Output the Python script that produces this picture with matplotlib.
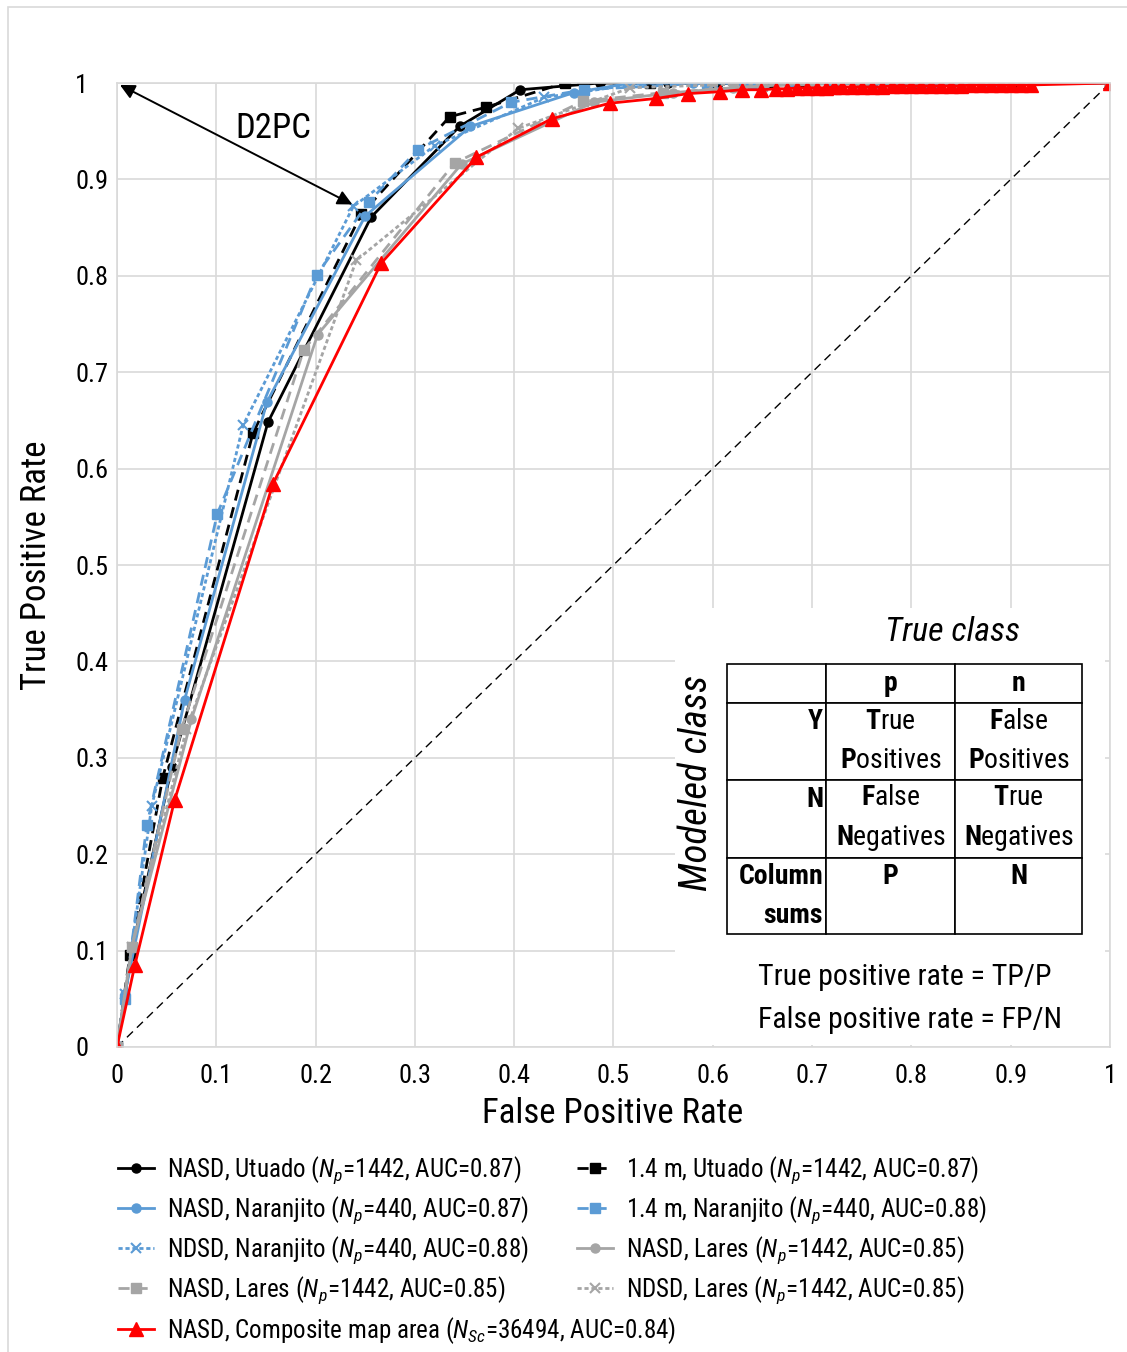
import matplotlib
matplotlib.use('Agg')
import matplotlib.pyplot as plt
from matplotlib import font_manager as fm
from matplotlib.patches import Rectangle

# Font: pick a condensed sans that has bold and italic faces
entries = fm.fontManager.ttflist
FONT = 'Liberation Sans'
for cand in ['Roboto Condensed', 'Barlow Semi Condensed', 'Asap Condensed', 'Liberation Sans Narrow']:
    faces = [f for f in entries if f.name == cand]
    has_bold = any(f.weight in (700, 'bold') and f.style == 'normal' for f in faces)
    has_ital = any(f.style == 'italic' for f in faces)
    if faces and has_bold and has_ital:
        FONT = cand
        break
plt.rcParams['font.family'] = [FONT, 'DejaVu Sans']
plt.rcParams['mathtext.fontset'] = 'custom'
plt.rcParams['mathtext.rm'] = FONT
plt.rcParams['mathtext.it'] = FONT + ':italic'
plt.rcParams['mathtext.bf'] = FONT + ':bold'

# ROC data
utuado_nasd_fpr = [0, 0.015, 0.055, 0.152, 0.256, 0.345, 0.406, 0.486, 0.555, 0.605, 0.63, 0.66, 0.69, 0.72, 0.76, 0.8, 0.85, 0.9, 1.0]
utuado_nasd_tpr = [0, 0.100, 0.290, 0.648, 0.861, 0.955, 0.993, 1.0, 1.0, 1.0, 1.0, 1.0, 1.0, 1.0, 1.0, 1.0, 1.0, 1.0, 1.0]

utuado_14_fpr = [0, 0.013, 0.046, 0.137, 0.246, 0.335, 0.372, 0.451, 0.537, 0.6, 0.65, 0.7, 0.75, 0.8, 0.85, 0.9, 1.0]
utuado_14_tpr = [0, 0.095, 0.279, 0.637, 0.864, 0.965, 0.975, 1.0, 1.0, 1.0, 1.0, 1.0, 1.0, 1.0, 1.0, 1.0, 1.0]

naranjito_nasd_fpr = [0, 0.008, 0.068, 0.151, 0.25, 0.356, 0.46, 0.517, 0.58, 0.63, 0.68, 0.72, 0.76, 0.8, 0.85, 0.9, 1.0]
naranjito_nasd_tpr = [0, 0.055, 0.36, 0.669, 0.862, 0.955, 0.99, 1.0, 1.0, 1.0, 1.0, 1.0, 1.0, 1.0, 1.0, 1.0, 1.0]

naranjito_14_fpr = [0, 0.008, 0.030, 0.101, 0.201, 0.254, 0.303, 0.397, 0.47, 0.594, 0.64, 0.7, 0.76, 0.82, 0.88, 1.0]
naranjito_14_tpr = [0, 0.05, 0.23, 0.553, 0.801, 0.877, 0.931, 0.98, 0.993, 1.0, 1.0, 1.0, 1.0, 1.0, 1.0, 1.0]

naranjito_ndsd_fpr = [0, 0.008, 0.035, 0.127, 0.238, 0.32, 0.43, 0.53, 0.6, 0.66, 0.73, 0.8, 0.88, 1.0]
naranjito_ndsd_tpr = [0, 0.055, 0.25, 0.645, 0.872, 0.935, 0.985, 1.0, 1.0, 1.0, 1.0, 1.0, 1.0, 1.0]

lares_nasd_fpr = [0, 0.015, 0.075, 0.202, 0.347, 0.48, 0.56, 0.62, 0.7, 0.8, 0.9, 1.0]
lares_nasd_tpr = [0, 0.104, 0.34, 0.739, 0.916, 0.98, 0.99, 0.995, 1.0, 1.0, 1.0, 1.0]

lares_14_fpr = [0, 0.015, 0.065, 0.188, 0.340, 0.469, 0.55, 0.65, 0.75, 0.85, 1.0]
lares_14_tpr = [0, 0.104, 0.33, 0.723, 0.917, 0.981, 0.99, 0.997, 1.0, 1.0, 1.0]

lares_ndsd_fpr = [0, 0.015, 0.07, 0.241, 0.404, 0.517, 0.6, 0.7, 0.8, 0.9, 1.0]
lares_ndsd_tpr = [0, 0.104, 0.33, 0.816, 0.953, 0.995, 0.998, 1.0, 1.0, 1.0, 1.0]

composite_fpr = [0, 0.018, 0.058, 0.157, 0.266, 0.362, 0.438, 0.496, 0.543, 0.575, 0.607, 0.629, 0.649, 0.664,
                 0.675, 0.685, 0.695, 0.705, 0.714, 0.722, 0.73, 0.74, 0.75, 0.76, 0.77, 0.78, 0.79, 0.80, 0.81,
                 0.82, 0.83, 0.84, 0.85, 0.86, 0.87, 0.88, 0.89, 0.90, 0.91, 0.92, 1.0]
composite_tpr = [0, 0.085, 0.256, 0.584, 0.813, 0.923, 0.963, 0.979, 0.984, 0.989, 0.991, 0.993, 0.993, 0.994,
                 0.994, 0.995, 0.995, 0.995, 0.995, 0.996, 0.996, 0.996, 0.996, 0.996, 0.996, 0.997, 0.997, 0.997, 0.997,
                 0.997, 0.997, 0.997, 0.997, 0.998, 0.998, 0.998, 0.998, 0.998, 0.998, 0.998, 1.0]

chance = [0, 1]
ticks = [0, 0.1, 0.2, 0.3, 0.4, 0.5, 0.6, 0.7, 0.8, 0.9, 1]
tick_labels = ['0', '0.1', '0.2', '0.3', '0.4', '0.5', '0.6', '0.7', '0.8', '0.9', '1']

BLACK = 'black'
BLUE = '#5B9BD5'
GRAY = '#A5A5A5'
RED = '#FF0000'

fig = plt.figure(figsize=(11.27, 13.52), dpi=100)
ax = fig.add_axes([0.1038, 0.2256, 0.8811, 0.7130])

lw = 2.0
l1, = ax.plot(utuado_nasd_fpr, utuado_nasd_tpr, color=BLACK, lw=lw, marker='o', ms=6.5,
              label=r'NASD, Utuado ($N_p$=1442, AUC=0.87)')
l2, = ax.plot(utuado_14_fpr, utuado_14_tpr, color=BLACK, lw=lw, dashes=(4, 2.5), marker='s', ms=6.5,
              label=r'1.4 m, Utuado ($N_p$=1442, AUC=0.87)')
l3, = ax.plot(naranjito_nasd_fpr, naranjito_nasd_tpr, color=BLUE, lw=lw, marker='o', ms=6.5,
              label=r'NASD, Naranjito ($N_p$=440, AUC=0.87)')
l4, = ax.plot(naranjito_14_fpr, naranjito_14_tpr, color=BLUE, lw=lw, dashes=(4, 2.5), marker='s', ms=6.5,
              label=r'1.4 m, Naranjito ($N_p$=440, AUC=0.88)')
l5, = ax.plot(naranjito_ndsd_fpr, naranjito_ndsd_tpr, color=BLUE, lw=lw, dashes=(1.5, 1), marker='x', ms=7, mew=1.5,
              label=r'NDSD, Naranjito ($N_p$=440, AUC=0.88)')
l6, = ax.plot(lares_nasd_fpr, lares_nasd_tpr, color=GRAY, lw=lw, marker='o', ms=6.5,
              label=r'NASD, Lares ($N_p$=1442, AUC=0.85)')
l7, = ax.plot(lares_14_fpr, lares_14_tpr, color=GRAY, lw=lw, dashes=(4, 2.5), marker='s', ms=6.5,
              label=r'NASD, Lares ($N_p$=1442, AUC=0.85)')
l8, = ax.plot(lares_ndsd_fpr, lares_ndsd_tpr, color=GRAY, lw=lw, dashes=(1.5, 1), marker='x', ms=7, mew=1.5,
              label=r'NDSD, Lares ($N_p$=1442, AUC=0.85)')
l9, = ax.plot(composite_fpr, composite_tpr, color=RED, lw=lw, marker='^', ms=10,
              label=r'NASD, Composite map area ($N_{Sc}$=36494, AUC=0.84)')

ax.plot(chance, chance, color='black', lw=1.0, dashes=(6, 4), zorder=1.5)

ax.set_xlim(0, 1)
ax.set_ylim(0, 1)
ax.set_xticks(ticks)
ax.set_xticklabels(tick_labels)
ax.set_yticks(ticks)
ax.set_yticklabels(tick_labels)
ax.tick_params(axis='both', length=0, labelsize=19)
ax.tick_params(axis='x', pad=12)
ax.tick_params(axis='y', pad=30)
for lab in ax.get_yticklabels():
    lab.set_horizontalalignment('left')
ax.grid(True, color='#d9d9d9', lw=1.2)
ax.set_axisbelow(True)
for sp in ax.spines.values():
    sp.set_color('#d9d9d9')
    sp.set_linewidth(1.2)

ax.set_xlabel('False Positive Rate', fontsize=25)
ax.xaxis.set_label_coords(0.4995, -0.052)
ax.set_ylabel('True Positive Rate', fontsize=25)
ax.yaxis.set_label_coords(-0.064, 0.5)

# D2PC arrow
ax.annotate('', xy=(0.003, 0.998), xytext=(0.237, 0.874),
            arrowprops=dict(arrowstyle='<|-|>', color='black', lw=1.4, mutation_scale=22,
                            shrinkA=0, shrinkB=0))
ax.text(0.157, 0.953, 'D2PC', fontsize=25, ha='center', va='center')

# inset: confusion matrix
ax.add_patch(Rectangle((0.562, 0.002), 0.433, 0.453, facecolor='white', edgecolor='none', zorder=1))
ax.text(0.841, 0.430, 'True class', fontsize=24.5, style='italic', ha='center', va='center', zorder=3)
ax.text(0.584, 0.274, 'Modeled class', fontsize=28, style='italic', rotation=90,
        ha='center', va='center', zorder=3)

cells = [['', 'p', 'n'],
         ['Y\n ', r'$\mathbf{T}$rue' + '\n' + r'$\mathbf{P}$ositives', r'$\mathbf{F}$alse' + '\n' + r'$\mathbf{P}$ositives'],
         ['N\n ', r'$\mathbf{F}$alse' + '\n' + r'$\mathbf{N}$egatives', r'$\mathbf{T}$rue' + '\n' + r'$\mathbf{N}$egatives'],
         ['Column\nsums', 'P\n ', 'N\n ']]
tbl = ax.table(cellText=cells, cellLoc='center', colWidths=[0.100, 0.130, 0.128],
               bbox=[0.6143, 0.117, 0.3577, 0.2803], zorder=3)
tbl.auto_set_font_size(False)
tbl.set_fontsize(20)
row_h = [0.040, 0.080, 0.081, 0.079]
for (r, c), cell in tbl.get_celld().items():
    cell.set_height(row_h[r])
    cell.set_edgecolor('black')
    cell.set_linewidth(1.2)
    txt = cell.get_text()
    if c == 0:
        txt.set_horizontalalignment('right')
        cell._loc = 'right'
        cell.PAD = 0.03
    if r == 0 or c == 0 or r == 3:
        txt.set_fontweight('bold')
    txt.set_linespacing(1.55)

ax.text(0.6455, 0.073, 'True positive rate = TP/P', fontsize=21.5, ha='left', va='center', zorder=3)
ax.text(0.6455, 0.028, 'False positive rate = FP/N', fontsize=21.5, ha='left', va='center', zorder=3)

# legends (two columns placed separately)
leg_kw = dict(frameon=False, fontsize=18, loc='upper left', borderaxespad=0, borderpad=0,
              handlelength=1.45, handletextpad=0.5, labelspacing=0.34)
fig.legend(handles=[l1, l3, l5, l7, l9], bbox_to_anchor=(0.1047, 0.1465), **leg_kw)
fig.legend(handles=[l2, l4, l6, l8], bbox_to_anchor=(0.512, 0.1465), **leg_kw)

# light border around the figure
fig.add_artist(Rectangle((8 / 1127, -0.02), 1.2, 1 - 7 / 1352 + 0.02, transform=fig.transFigure,
                         fill=False, edgecolor='#d9d9d9', lw=1.2))

fig.savefig('out.png', dpi=100)
